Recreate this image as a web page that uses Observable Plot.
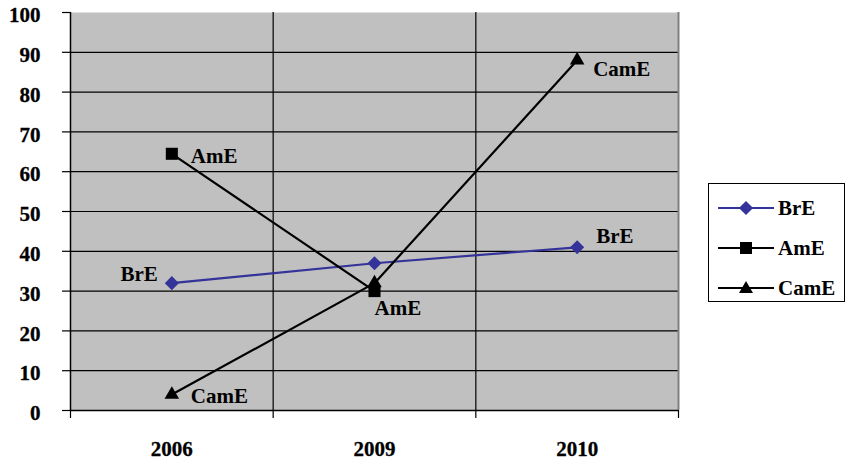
<!DOCTYPE html>
<html><head><meta charset="utf-8">
<script src="https://cdn.jsdelivr.net/npm/d3@7"></script>
<script src="https://cdn.jsdelivr.net/npm/@observablehq/plot@0.6"></script>
<style>
body{margin:0;background:#fff;}
#chart{position:relative;width:846px;height:463px;font-family:"Liberation Serif","Times New Roman",serif;font-weight:bold;}
#legend{position:absolute;left:708px;top:183px;width:137px;height:119px;border:1px solid #000;box-sizing:border-box;background:#fff;padding-top:4px;}
.row{display:flex;align-items:center;height:40px;font-size:21px;}
.row svg{margin-left:9px;margin-right:4px;}
</style>
</head><body>
<div id="chart"></div>
<script>
const years = ["2006", "2009", "2010"];
const seriesNames = ["BrE", "AmE", "CamE"];
const breValues = [32, 37, 41];
const ameValues = [64.5, 30, null];
const cameValues = [4, 32, 88];
const yTicks = [0, 10, 20, 30, 40, 50, 60, 70, 80, 90, 100];
const seriesColors = ["#333399", "#000000", "#000000"];

const valuesBySeries = {BrE: breValues, AmE: ameValues, CamE: cameValues};
const rows = [];
for (const s of seriesNames) {
  valuesBySeries[s].forEach((v, i) => { if (v != null) rows.push({series: s, year: years[i], value: v}); });
}
const xPos = d => years.indexOf(d.year) + 0.5;

const labelPlacement = [
  {series: "BrE", year: "2006", anchor: "end", dx: -14, dy: -9},
  {series: "BrE", year: "2010", anchor: "start", dx: 19, dy: -11},
  {series: "AmE", year: "2006", anchor: "start", dx: 19, dy: 2},
  {series: "AmE", year: "2009", anchor: "start", dx: 0, dy: 17},
  {series: "CamE", year: "2006", anchor: "start", dx: 19, dy: 2},
  {series: "CamE", year: "2010", anchor: "start", dx: 16, dy: 9}
];

const marker = {
  BrE: {symbol: "square", r: 5.6, rotate: 45},
  AmE: {symbol: "square", r: 6.8, rotate: 0},
  CamE: {symbol: "triangle", r: 5.4, rotate: 0}
};

const font = '"Liberation Serif","Times New Roman",serif';
const marks = [
  Plot.frame({fill: "#c0c0c0", stroke: null}),
  Plot.gridY(yTicks.filter(v => v > 0 && v < 100), {stroke: "#000", strokeOpacity: 1, strokeWidth: 1.2}),
  Plot.gridX(d3.range(1, years.length), {stroke: "#000", strokeOpacity: 1, strokeWidth: 1.2}),
  Plot.ruleX([years.length], {stroke: "#808080", strokeWidth: 2}),
  Plot.ruleX([0], {stroke: "#000", strokeWidth: 1.5}),
  Plot.ruleY([0], {stroke: "#000", strokeWidth: 1.5}),
  Plot.axisY({ticks: yTicks, tickSize: 8, tickPadding: 22, tickFormat: d => String(d), fontSize: 21, strokeWidth: 1.2, label: null, textStroke: "#000", textStrokeWidth: 0.3}),
  Plot.axisX({ticks: d3.range(0, years.length + 1), tickSize: 8, tickFormat: () => "", strokeWidth: 1.2, label: null}),
  Plot.axisX({ticks: years.map((_, i) => i + 0.5), tickSize: 0, tickPadding: 31, tickFormat: v => years[Math.floor(v)], fontSize: 21, label: null, textStroke: "#000", textStrokeWidth: 0.3})
];
seriesNames.forEach((s, k) => {
  const data = rows.filter(d => d.series === s);
  marks.push(Plot.line(data, {x: xPos, y: "value", stroke: seriesColors[k], strokeWidth: 2.2}));
});
seriesNames.forEach((s, k) => {
  const data = rows.filter(d => d.series === s);
  marks.push(Plot.dot(data, {x: xPos, y: "value", symbol: marker[s].symbol, r: marker[s].r, rotate: marker[s].rotate, fill: seriesColors[k], stroke: "none"}));
});
for (const p of labelPlacement) {
  marks.push(Plot.text(rows.filter(d => d.series === p.series && d.year === p.year), {
    x: xPos, y: "value", text: "series", textAnchor: p.anchor, dx: p.dx, dy: p.dy, fontSize: 21, fill: "#000"
  }));
}

const chart = Plot.plot({
  width: 846, height: 463,
  marginLeft: 70, marginRight: 168, marginTop: 12, marginBottom: 53,
  style: {fontFamily: font, fontWeight: "bold", background: "transparent", color: "#000", overflow: "visible"},
  x: {type: "linear", domain: [0, years.length], axis: null},
  y: {domain: [0, 100], axis: null},
  marks
});
document.getElementById("chart").appendChild(chart);
// nudge y tick labels slightly below their ticks, as in the reference
chart.querySelectorAll("g[aria-label='y-axis tick label'] text").forEach(t => t.setAttribute("dy", "3"));

// Legend
const legend = document.createElement("div");
legend.id = "legend";
seriesNames.forEach((s, k) => {
  const row = document.createElement("div");
  row.className = "row";
  const m = marker[s];
  let shape;
  if (s === "BrE") shape = `<rect x="${28 - 5}" y="${10 - 5}" width="10" height="10" transform="rotate(45 28 10)" fill="${seriesColors[k]}"/>`;
  else if (m.symbol === "square") shape = `<rect x="22" y="4" width="12" height="12" fill="${seriesColors[k]}"/>`;
  else shape = `<path d="M28,3 L35,15 L21,15 Z" fill="${seriesColors[k]}"/>`;
  row.innerHTML = `<svg width="56" height="20"><line x1="0" y1="10" x2="56" y2="10" stroke="${seriesColors[k]}" stroke-width="2"/>${shape}</svg><span>${s}</span>`;
  legend.appendChild(row);
});
document.getElementById("chart").appendChild(legend);
</script>
</body></html>
